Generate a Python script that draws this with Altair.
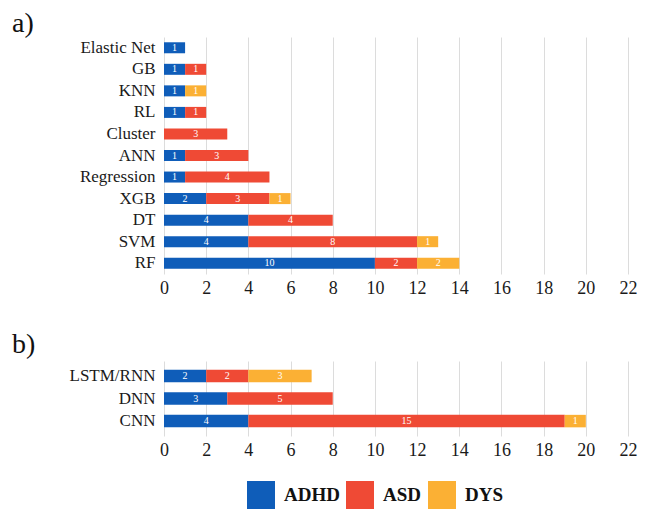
import altair as alt
import pandas as pd

diseases = ["ADHD", "ASD", "DYS"]
colors = ["#0f5db9", "#ef4a35", "#fbb034"]

models_a = ["Elastic Net", "GB", "KNN", "RL", "Cluster", "ANN", "Regression", "XGB", "DT", "SVM", "RF"]
adhd_a = [1, 1, 1, 1, 0, 1, 1, 2, 4, 4, 10]
asd_a = [0, 1, 0, 1, 3, 3, 4, 3, 4, 8, 2]
dys_a = [0, 0, 1, 0, 0, 0, 0, 1, 0, 1, 2]

models_b = ["LSTM/RNN", "DNN", "CNN"]
adhd_b = [2, 3, 4]
asd_b = [2, 5, 15]
dys_b = [3, 0, 1]

panel_labels = ["a)", "b)"]
x_ticks = list(range(0, 23, 2))
FONT = "Liberation Serif"


def long_df(models, series):
    rows = []
    for i, m in enumerate(models):
        for k, (d, vals) in enumerate(zip(diseases, series)):
            if vals[i] > 0:
                rows.append({"model": m, "disease": d, "value": vals[i], "order": k})
    return pd.DataFrame(rows)


def panel(models, series, label, label_y, height, pad_outer, bar_size, legend):
    df = long_df(models, series)
    base = alt.Chart(df).transform_stack(
        stack="value", groupby=["model"], as_=["x0", "x1"], sort=[alt.SortField("order")]
    ).transform_calculate(mid="(datum.x0 + datum.x1) / 2")
    y = alt.Y("model:N", sort=models, title=None,
              scale=alt.Scale(paddingInner=0, paddingOuter=pad_outer),
              axis=alt.Axis(ticks=False, domain=False, labelFont=FONT, labelFontSize=17,
                            labelColor="#1a1a1a", labelPadding=9, grid=False))
    xs = alt.Scale(domain=[0, 22], nice=False, zero=True)
    bars = base.mark_bar(size=bar_size).encode(
        x=alt.X("x0:Q", scale=xs, title=None,
                axis=alt.Axis(values=x_ticks, ticks=False, domain=False, labelFont=FONT,
                              labelFontSize=18, labelColor="#1a1a1a", labelPadding=5,
                              grid=True, gridColor="#dcdcdc", gridWidth=1, labelFlush=False)),
        x2="x1:Q",
        y=y,
        color=alt.Color("disease:N", scale=alt.Scale(domain=diseases, range=colors),
                        sort=diseases, legend=legend),
    )
    text = base.mark_text(color="white", font=FONT, fontSize=10, baseline="middle").encode(
        x=alt.X("mid:Q", scale=xs),
        y=alt.Y("model:N", sort=models),
        text=alt.Text("value:Q"),
    )
    tag = alt.Chart(pd.DataFrame({"label": [label]})).mark_text(
        font=FONT, fontSize=28, color="#111111", align="left", baseline="alphabetic"
    ).encode(x=alt.value(-152), y=alt.value(label_y), text="label:N")
    return alt.layer(bars, text, tag).properties(width=464, height=height)


legend_b = alt.Legend(orient="none", legendX=83, legendY=120, direction="horizontal",
                      title=None, symbolType="square", symbolSize=784, symbolStrokeWidth=0,
                      labelFont=FONT, labelFontSize=19, labelFontWeight="bold",
                      labelColor="#111111", labelOffset=9, columnPadding=6)

pa = panel(models_a, [adhd_a, asd_a, dys_a], panel_labels[0], -5, 237, 0.0, 11, None)
pb = panel(models_b, [adhd_b, asd_b, dys_b], panel_labels[1], -8, 75, 0.16, 12.5, legend_b)

chart = alt.vconcat(pa, pb, spacing=34).resolve_scale(color="independent").resolve_legend(
    color="independent"
).properties(padding={"left": 12, "top": 10, "right": 5, "bottom": 0}).configure(
    font=FONT
).configure_axis(labelFont=FONT, labelColor="#1a1a1a").configure_view(stroke=None)

chart.save("out.html", embed_options={"renderer": "svg", "actions": False})
